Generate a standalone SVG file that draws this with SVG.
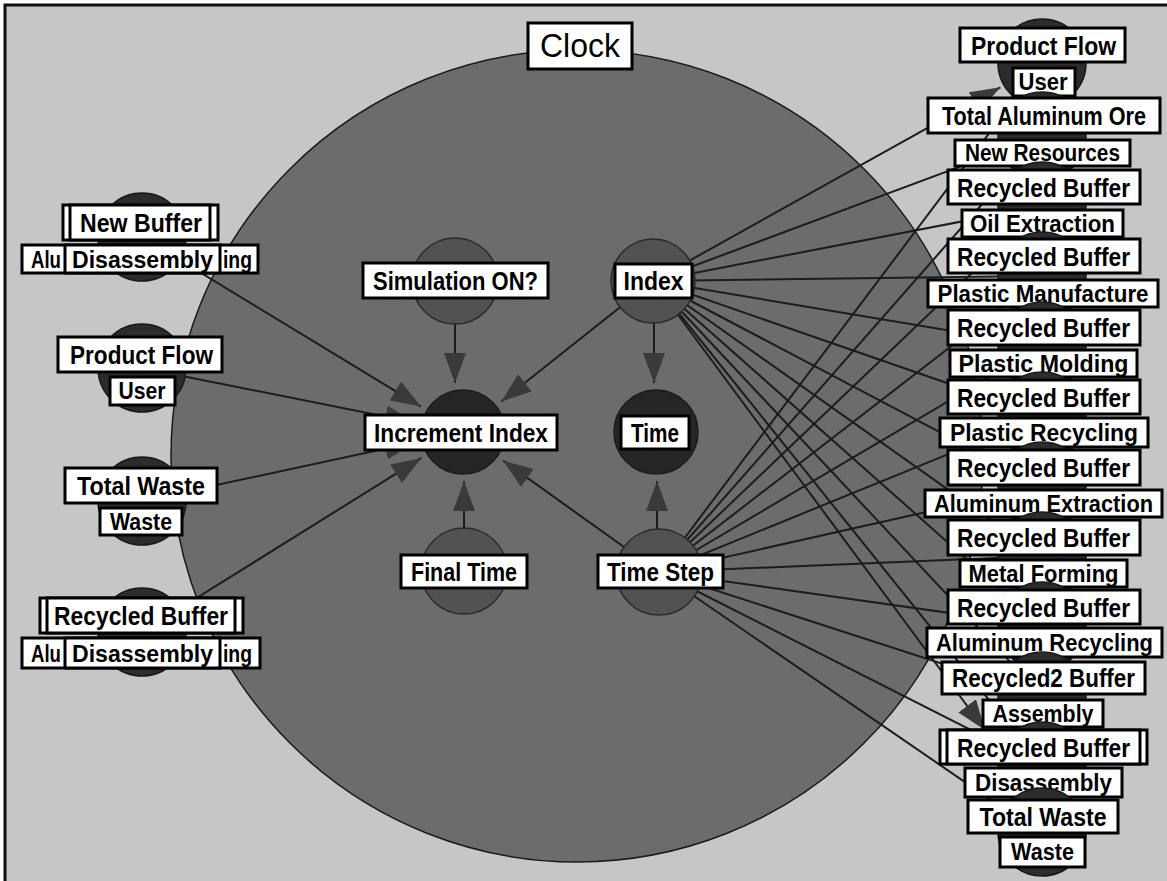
<svg xmlns="http://www.w3.org/2000/svg" width="1167" height="881" viewBox="0 0 1167 881">
<defs>
<marker id="ah" markerUnits="userSpaceOnUse" markerWidth="30" markerHeight="22" refX="30" refY="11" orient="auto"><path d="M0,0 L30,11 L0,22 z" fill="#3a3a3a"/></marker>
<style>
.lbl{fill:#fff;stroke:#000;stroke-width:3}
.t{font-family:"Liberation Sans",Arial,sans-serif;font-weight:bold;font-size:26px;fill:#000;text-anchor:middle}
.m{font-family:"Liberation Sans",Arial,sans-serif;font-weight:bold;font-size:23px;fill:#000;text-anchor:middle}
.mid{fill:#525252;stroke:#2a2a2a;stroke-width:1.5}
.dk{fill:#262626;stroke:#1a1a1a;stroke-width:1.5}
.side{fill:#2c2c2c;stroke:#1a1a1a;stroke-width:1.5}
.c{stroke:#1c1c1c;stroke-width:2;fill:none}
.ca{stroke:#1c1c1c;stroke-width:2;fill:none;marker-end:url(#ah)}
</style>
</defs>
<rect x="0" y="0" width="1167" height="881" fill="#fff"/>
<rect x="6" y="6" width="1161" height="875" fill="#c6c6c6"/>
<path d="M5,881 V5 H1167" stroke="#111" stroke-width="3" fill="none"/>

<g id="clock">
<circle cx="577" cy="456" r="406" fill="#6c6c6c" stroke="#1a1a1a" stroke-width="1.5"/>
<rect class="lbl" x="528" y="23" width="104" height="46"/>
<text x="580" y="57" font-family="'Liberation Sans',Arial,sans-serif" font-size="33" text-anchor="middle" textLength="80" lengthAdjust="spacingAndGlyphs">Clock</text>
</g>

<g id="connectors">
<line class="ca" x1="455" y1="300" x2="455" y2="383"/>
<line class="ca" x1="653" y1="281" x2="501.4" y2="401.5"/>
<line class="ca" x1="654" y1="300" x2="654" y2="383"/>
<line class="ca" x1="464" y1="571" x2="464" y2="481"/>
<line class="ca" x1="659" y1="572" x2="503" y2="460.5"/>
<line class="ca" x1="657" y1="572" x2="657" y2="481"/>
<line class="ca" x1="142" y1="237" x2="421" y2="406.6"/>
<line class="ca" x1="142" y1="368" x2="415" y2="422.4"/>
<line class="ca" x1="142" y1="501" x2="415" y2="442.3"/>
<line class="ca" x1="142" y1="632" x2="421.4" y2="457.9"/>
<line class="ca" x1="653" y1="281" x2="1000.4" y2="87.3"/>
<line class="c" x1="653" y1="281" x2="1042" y2="136"/>
<line class="c" x1="653" y1="281" x2="1042" y2="206"/>
<line class="c" x1="653" y1="281" x2="1042" y2="276"/>
<line class="c" x1="653" y1="281" x2="1042" y2="346"/>
<line class="c" x1="653" y1="281" x2="1042" y2="416"/>
<line class="c" x1="653" y1="281" x2="1042" y2="486"/>
<line class="c" x1="653" y1="281" x2="1042" y2="556"/>
<line class="c" x1="653" y1="281" x2="1042" y2="626"/>
<line class="c" x1="653" y1="281" x2="1042" y2="696"/>
<line class="c" x1="653" y1="281" x2="1042" y2="766"/>
<line class="ca" x1="653" y1="281" x2="985" y2="730"/>
<line class="c" x1="659" y1="572" x2="1042" y2="63"/>
<line class="c" x1="659" y1="572" x2="1042" y2="136"/>
<line class="c" x1="659" y1="572" x2="1042" y2="206"/>
<line class="c" x1="659" y1="572" x2="1042" y2="276"/>
<line class="c" x1="659" y1="572" x2="1042" y2="346"/>
<line class="c" x1="659" y1="572" x2="1042" y2="416"/>
<line class="c" x1="659" y1="572" x2="1042" y2="486"/>
<line class="c" x1="659" y1="572" x2="1042" y2="556"/>
<line class="c" x1="659" y1="572" x2="1042" y2="626"/>
<line class="c" x1="659" y1="572" x2="1042" y2="696"/>
<line class="c" x1="659" y1="572" x2="1042" y2="766"/>
<line class="c" x1="659" y1="572" x2="1042" y2="835"/>
</g>

<g id="sim-on">
<circle class="mid" cx="455" cy="281" r="43"/>
<rect class="lbl" x="363" y="263" width="185" height="35"/>
<text class="t" x="455.5" y="290" textLength="165" lengthAdjust="spacingAndGlyphs">Simulation ON?</text>
</g>
<g id="index">
<circle class="mid" cx="653" cy="281" r="42"/>
<rect class="lbl" x="615" y="264" width="77" height="34"/>
<text class="t" x="653.5" y="290" textLength="60" lengthAdjust="spacingAndGlyphs">Index</text>
</g>
<g id="increment-index">
<circle class="dk" cx="463" cy="432" r="42"/>
<rect class="lbl" x="365" y="415" width="192" height="35"/>
<text class="t" x="461" y="442" textLength="174" lengthAdjust="spacingAndGlyphs">Increment Index</text>
</g>
<g id="time">
<circle class="dk" cx="656" cy="432" r="42"/>
<rect class="lbl" x="621" y="416" width="68" height="33"/>
<text class="t" x="655" y="442" textLength="48" lengthAdjust="spacingAndGlyphs">Time</text>
</g>
<g id="final-time">
<circle class="mid" cx="464" cy="571" r="43"/>
<rect class="lbl" x="401" y="555" width="126" height="33"/>
<text class="t" x="464" y="581" textLength="106" lengthAdjust="spacingAndGlyphs">Final Time</text>
</g>
<g id="time-step">
<circle class="mid" cx="659" cy="572" r="43"/>
<rect class="lbl" x="598" y="555" width="125" height="33"/>
<text class="t" x="660.5" y="581" textLength="107" lengthAdjust="spacingAndGlyphs">Time Step</text>
</g>

<g id="left-new-buffer">
<circle class="side" cx="142" cy="237" r="44"/>
<rect class="lbl" x="63" y="205" width="155" height="35"/>
<rect class="lbl" x="70" y="205" width="140" height="35"/>
<text class="t" x="141" y="232" textLength="122" lengthAdjust="spacingAndGlyphs">New Buffer</text>
<rect class="lbl" x="22" y="245" width="236" height="28"/>
<text class="m" x="31" y="268" style="text-anchor:start" textLength="30" lengthAdjust="spacingAndGlyphs">Alu</text>
<text class="m" x="252" y="268" style="text-anchor:end" textLength="29" lengthAdjust="spacingAndGlyphs">ing</text>
<rect class="lbl" x="65" y="245" width="155" height="28"/>
<text class="m" x="142.5" y="268" textLength="141" lengthAdjust="spacingAndGlyphs">Disassembly</text>
</g>
<g id="left-product-flow">
<circle class="side" cx="142" cy="368" r="44"/>
<rect class="lbl" x="58" y="337" width="164" height="35"/>
<text class="t" x="141.5" y="364" textLength="143" lengthAdjust="spacingAndGlyphs">Product Flow</text>
<rect class="lbl" x="110" y="377" width="65" height="28"/>
<text class="m" x="142" y="399" textLength="47" lengthAdjust="spacingAndGlyphs">User</text>
</g>
<g id="left-total-waste">
<circle class="side" cx="142" cy="501" r="44"/>
<rect class="lbl" x="65" y="468" width="152" height="35"/>
<text class="t" x="141" y="495" textLength="128" lengthAdjust="spacingAndGlyphs">Total Waste</text>
<rect class="lbl" x="100" y="508" width="82" height="27"/>
<text class="m" x="141" y="530" textLength="62" lengthAdjust="spacingAndGlyphs">Waste</text>
</g>
<g id="left-recycled-buffer">
<circle class="side" cx="142" cy="632" r="44"/>
<rect class="lbl" x="40" y="598" width="203" height="35"/>
<rect class="lbl" x="47" y="598" width="188" height="35"/>
<text class="t" x="141" y="625" textLength="174" lengthAdjust="spacingAndGlyphs">Recycled Buffer</text>
<rect class="lbl" x="22" y="638" width="238" height="30"/>
<text class="m" x="31" y="662" style="text-anchor:start" textLength="30" lengthAdjust="spacingAndGlyphs">Alu</text>
<text class="m" x="252" y="662" style="text-anchor:end" textLength="29" lengthAdjust="spacingAndGlyphs">ing</text>
<rect class="lbl" x="65" y="638" width="155" height="30"/>
<text class="m" x="142.5" y="662" textLength="141" lengthAdjust="spacingAndGlyphs">Disassembly</text>
</g>

<g id="r0">
<circle class="side" cx="1042" cy="63" r="44"/>
<rect class="lbl" x="960" y="28" width="165" height="34"/>
<text class="t" x="1043.5" y="55" textLength="145" lengthAdjust="spacingAndGlyphs">Product Flow</text>
<rect class="lbl" x="1013" y="68" width="62" height="28"/>
<text class="m" x="1043" y="90" textLength="49" lengthAdjust="spacingAndGlyphs">User</text>
</g>
<g id="r1">
<circle class="side" cx="1042" cy="136" r="44"/>
<rect class="lbl" x="928" y="98" width="232" height="35"/>
<text class="t" x="1044" y="125" font-size="25" style="font-size:25px" textLength="204" lengthAdjust="spacingAndGlyphs">Total Aluminum Ore</text>
<rect class="lbl" x="955" y="140" width="175" height="26"/>
<text class="m" x="1042.5" y="161" textLength="155" lengthAdjust="spacingAndGlyphs">New Resources</text>
</g>
<g id="r2">
<circle class="side" cx="1042" cy="206" r="44"/>
<rect class="lbl" x="948" y="170" width="192" height="34"/>
<text class="t" x="1043.5" y="196.5" textLength="173" lengthAdjust="spacingAndGlyphs">Recycled Buffer</text>
<rect class="lbl" x="962" y="210" width="161" height="27"/>
<text class="m" x="1042.5" y="232" textLength="145" lengthAdjust="spacingAndGlyphs">Oil Extraction</text>
</g>
<g id="r3">
<circle class="side" cx="1042" cy="276" r="44"/>
<rect class="lbl" x="948" y="239" width="192" height="34"/>
<text class="t" x="1043.5" y="265.5" textLength="173" lengthAdjust="spacingAndGlyphs">Recycled Buffer</text>
<rect class="lbl" x="928" y="280" width="230" height="27"/>
<text class="m" x="1043" y="302" textLength="211" lengthAdjust="spacingAndGlyphs">Plastic Manufacture</text>
</g>
<g id="r4">
<circle class="side" cx="1042" cy="346" r="44"/>
<rect class="lbl" x="948" y="310" width="192" height="35"/>
<text class="t" x="1043.5" y="337" textLength="173" lengthAdjust="spacingAndGlyphs">Recycled Buffer</text>
<rect class="lbl" x="950" y="350" width="187" height="27"/>
<text class="m" x="1043.5" y="372" textLength="170" lengthAdjust="spacingAndGlyphs">Plastic Molding</text>
</g>
<g id="r5">
<circle class="side" cx="1042" cy="416" r="44"/>
<rect class="lbl" x="948" y="380" width="192" height="34"/>
<text class="t" x="1043.5" y="406.5" textLength="173" lengthAdjust="spacingAndGlyphs">Recycled Buffer</text>
<rect class="lbl" x="940" y="418" width="208" height="29"/>
<text class="m" x="1044" y="441" textLength="188" lengthAdjust="spacingAndGlyphs">Plastic Recycling</text>
</g>
<g id="r6">
<circle class="side" cx="1042" cy="486" r="44"/>
<rect class="lbl" x="948" y="450" width="192" height="35"/>
<text class="t" x="1043.5" y="477" textLength="173" lengthAdjust="spacingAndGlyphs">Recycled Buffer</text>
<rect class="lbl" x="925" y="490" width="237" height="27"/>
<text class="m" x="1043.5" y="512" textLength="219" lengthAdjust="spacingAndGlyphs">Aluminum Extraction</text>
</g>
<g id="r7">
<circle class="side" cx="1042" cy="556" r="44"/>
<rect class="lbl" x="948" y="520" width="192" height="35"/>
<text class="t" x="1043.5" y="547" textLength="173" lengthAdjust="spacingAndGlyphs">Recycled Buffer</text>
<rect class="lbl" x="960" y="560" width="167" height="27"/>
<text class="m" x="1043.5" y="582" textLength="150" lengthAdjust="spacingAndGlyphs">Metal Forming</text>
</g>
<g id="r8">
<circle class="side" cx="1042" cy="626" r="44"/>
<rect class="lbl" x="948" y="590" width="192" height="34"/>
<text class="t" x="1043.5" y="616.5" textLength="173" lengthAdjust="spacingAndGlyphs">Recycled Buffer</text>
<rect class="lbl" x="927" y="628" width="235" height="29"/>
<text class="m" x="1044.5" y="651" textLength="217" lengthAdjust="spacingAndGlyphs">Aluminum Recycling</text>
</g>
<g id="r9">
<circle class="side" cx="1042" cy="696" r="44"/>
<rect class="lbl" x="942" y="662" width="203" height="32"/>
<text class="t" x="1043.5" y="687" textLength="183" lengthAdjust="spacingAndGlyphs">Recycled2 Buffer</text>
<rect class="lbl" x="983" y="700" width="120" height="27"/>
<text class="m" x="1043" y="722" textLength="101" lengthAdjust="spacingAndGlyphs">Assembly</text>
</g>
<g id="r10">
<circle class="side" cx="1042" cy="766" r="44"/>
<rect class="lbl" x="940" y="730" width="207" height="34"/>
<rect class="lbl" x="947" y="730" width="193" height="34"/>
<text class="t" x="1043.5" y="756.5" textLength="173" lengthAdjust="spacingAndGlyphs">Recycled Buffer</text>
<rect class="lbl" x="965" y="768" width="157" height="29"/>
<text class="m" x="1043.5" y="791" textLength="137" lengthAdjust="spacingAndGlyphs">Disassembly</text>
</g>
<g id="r11">
<circle class="side" cx="1042" cy="832" r="44"/>
<rect class="lbl" x="968" y="800" width="150" height="33"/>
<text class="t" x="1043" y="826" textLength="127" lengthAdjust="spacingAndGlyphs">Total Waste</text>
<rect class="lbl" x="1000" y="837" width="85" height="30"/>
<text class="m" x="1042.5" y="860" textLength="63" lengthAdjust="spacingAndGlyphs">Waste</text>
</g>
</svg>
